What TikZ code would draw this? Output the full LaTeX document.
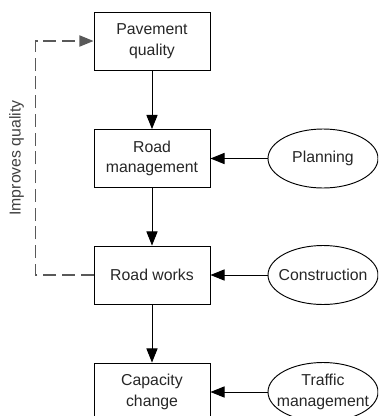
\documentclass[tikz,border=0pt]{standalone}
\usepackage{fontspec}
\setmainfont{Liberation Sans}
\usetikzlibrary{arrows.meta,shapes.geometric}

\begin{document}
\begin{tikzpicture}[x=0.03cm, y=-0.03cm,
    every node/.style={font=\fontsize{13.5}{17.5}\selectfont, text=black!85},
    block/.style={draw, line width=0.8pt, minimum width=3.48cm, minimum height=1.74cm, align=center, inner sep=0pt},
    source/.style={draw, ellipse, line width=0.8pt, minimum width=3.3cm, minimum height=1.77cm, inner xsep=-8pt, inner ysep=0pt, align=center},
    flow/.style={line width=0.8pt, -{Triangle[length=12pt,width=9.5pt]}},
    feedback/.style={flow, line width=1.2pt, black!65, dash pattern=on 11pt off 5pt}]
    % Fix the page size and cut off what runs over the edge
    \useasboundingbox (0,0) rectangle (378,416);
    \clip (0,0) rectangle (378,416);

    % Main chain of boxes
    \node[block] (pave) at (152,41) {Pavement\\quality};
    \node[block] (roadmgmt) at (152,158.5) {Road\\management};
    \node[block] (works) at (152,275) {Road works};
    \node[block] (capacity) at (152,392) {Capacity\\change};

    % Influences from the side
    \node[source] (planning) at (323,158.5) {Planning};
    \node[source] (construction) at (323,275) {Construction};
    \node[source] (traffic) at (323,392) {Traffic\\management};

    % Arrows down the chain
    \draw[flow] (pave) -- (roadmgmt);
    \draw[flow] (roadmgmt) -- (works);
    \draw[flow] (works) -- (capacity);

    % Arrows from the ellipses
    \draw[flow] (planning) -- (roadmgmt);
    \draw[flow] (construction) -- (works);
    \draw[flow] (traffic) -- (capacity);

    % Feedback loop back to the top
    \draw[feedback] (works.west) -- ++(-58,0) |- node[pos=0.25, sloped, above=6pt, text=black!75] (improves) {Improves quality} (pave.west);
\end{tikzpicture}
\end{document}
